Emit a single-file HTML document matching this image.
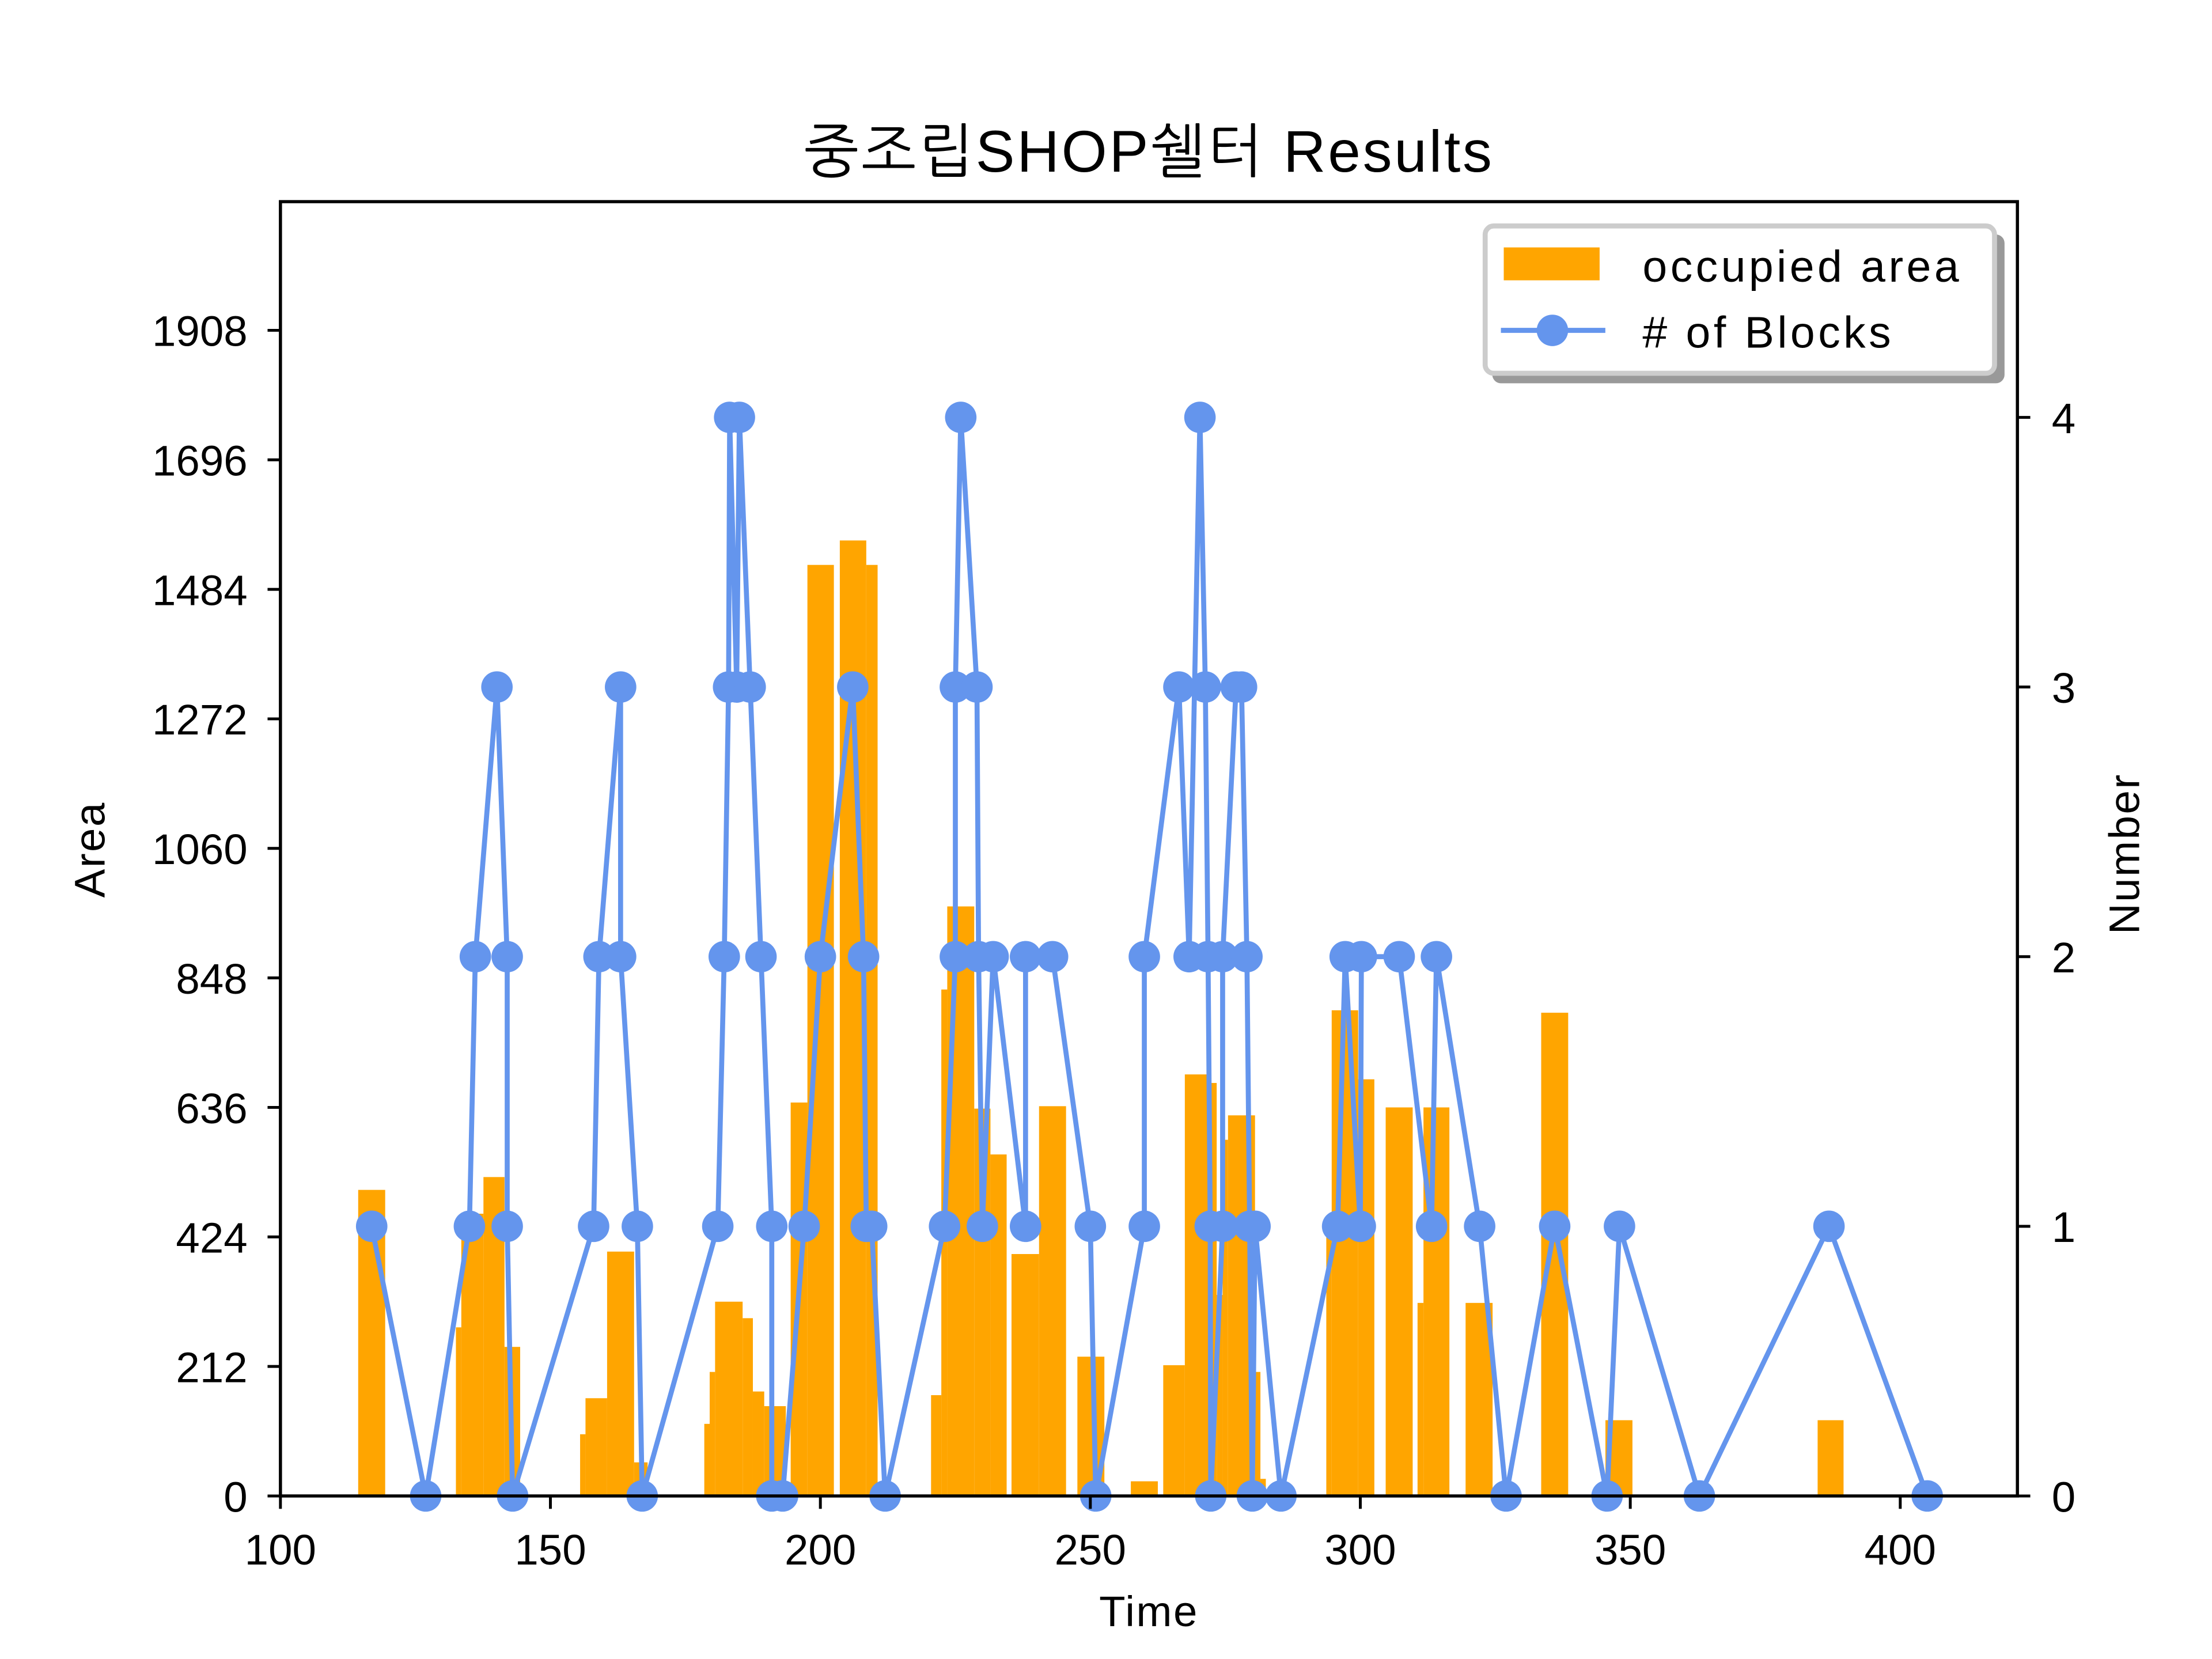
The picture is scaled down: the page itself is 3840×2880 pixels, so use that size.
<!DOCTYPE html>
<html><head><meta charset="utf-8">
<style>
html,body{margin:0;padding:0;background:#fff;}
svg{display:block;}
text{font-family:"Liberation Sans","NanumGothic","Noto Sans CJK KR",sans-serif;fill:#000;}
</style></head>
<body>
<svg id="chart" width="3840" height="2880" viewBox="0 0 1546 1160" preserveAspectRatio="none" xmlns="http://www.w3.org/2000/svg">
<rect x="0" y="0" width="1546" height="1160" fill="#fff"/>
<g id="bars"></g>
<g id="line"></g>
<rect x="196" y="141" width="1214" height="905" fill="none" stroke="#000" stroke-width="2.2"/>
<g id="xticks"></g>
<g id="yticks"></g>
<g id="rticks"></g>
<text x="803" y="120" text-anchor="middle" font-size="41" letter-spacing="1.5">중조립SHOP쉘터 Results</text>
<text x="803" y="1137" text-anchor="middle" font-size="30" letter-spacing="1">Time</text>
<text x="0" y="0" transform="translate(73,594) rotate(-90)" text-anchor="middle" font-size="30" letter-spacing="1">Area</text>
<text x="0" y="0" transform="translate(1495,597) rotate(-90)" text-anchor="middle" font-size="30" letter-spacing="1">Number</text>
<g>
<rect x="1043" y="164" width="358" height="104" rx="6" fill="#999"/>
<rect x="1038" y="158" width="356" height="103" rx="6" fill="#fff" stroke="#ccc" stroke-width="3.5"/>
<rect x="1051" y="173" width="67" height="23" fill="#FFA500"/>
<text x="1148" y="197" font-size="31" letter-spacing="2.2">occupied area</text>
<line x1="1049" y1="231" x2="1122" y2="231" stroke="#6495ED" stroke-width="3.5"/>
<circle cx="1085" cy="231" r="11" fill="#6495ED"/>
<text x="1148" y="243" font-size="31" letter-spacing="2.2"># of Blocks</text>
</g>
</svg>
<script>
// bar data: start time, width, area
const barStart = [114.4,132.5,133.5,137.6,141.5,155.5,156.5,160.5,165.5,178.5,179.5,180.5,185.6,187.5,189.6,194.5,197.6,203.6,208.5,220.5,222.4,223.5,228.5,231.5,235.4,240.5,247.6,257.5,263.5,267.5,272.4,273.4,274.5,275.5,280.5,281.5,293.7,294.7,299.6,304.7,310.6,311.7,319.5,333.5,345.4,384.7];
const barWidth = [5,1,4.1,3.9,2.9,1,4,5,2.5,1,1,5.1,1.9,2.1,4,3.1,4.9,4.9,2.1,1.9,1.1,5,3,3,5.1,5,5,5,4,4.9,1,1.1,1,5,1,1,1,4.9,3,5,1.1,4.8,5,5,5,4.8];
const barArea = [501,276,462,522,244,101,160,400,55,118,203,318,291,171,147,644,1524,1564,1524,165,829,965,634,559,396,638,228,24,214,690,676,329,583,623,203,28,447,795,682,636,316,636,316,791,124,124];
// line data: time, number of blocks
const ptTime = [116.9,126.9,135,136.1,140.1,142,142,143,158,159,163,163,166.1,167,181,182.2,183,183.2,184.5,185,187,189,191,191,193,197,200,206,208,208.5,209.5,212,223,225,225,226,229,229.3,230,232,238,238,243,250,251,260,260,266.4,268.3,270.3,271.3,271.8,272.2,272.3,274.5,274.5,277,278,279,279.5,280,280.5,285.3,295.8,297.2,300,300.2,307.2,313.2,314.1,322.1,327,336,345.7,348,362.8,386.8,405];
const ptCount = [1,0,1,2,3,2,1,0,1,2,3,2,1,0,1,2,3,4,3,4,3,2,1,0,0,1,2,3,2,1,1,0,1,2,3,4,3,2,1,2,1,2,2,1,0,1,2,3,2,4,3,2,1,0,1,2,3,3,2,1,0,1,0,1,2,1,2,2,1,2,1,0,1,0,1,0,1,0];
const xTicks = [100,150,200,250,300,350,400];
const yTicks = [0,212,424,636,848,1060,1272,1484,1696,1908];
const rTicks = [0,1,2,3,4];

const NS='http://www.w3.org/2000/svg';
const X0=196,X1=1410,Y0=1046,Y1=141;
const xMin=100,xMax=421.7,aMax=2118.6,nMax=4.8;
function sx(t){return X0+(t-xMin)/(xMax-xMin)*(X1-X0);}
function sa(a){return Y0-a/aMax*(Y0-Y1);}
function sn(n){return Y0-n/nMax*(Y0-Y1);}
function mk(tag,attrs,parent){const e=document.createElementNS(NS,tag);for(const k in attrs)e.setAttribute(k,attrs[k]);parent.appendChild(e);return e;}

const gb=document.getElementById('bars');
for(let i=0;i<barStart.length;i++){
  const x=sx(barStart[i]),w=sx(barStart[i]+barWidth[i])-x,y=sa(barArea[i]);
  const r=mk('rect',{x:x,y:y,width:w,height:Y0-y,fill:'#FFA500'},gb);
  
  
}
const gl=document.getElementById('line');
const pts=ptTime.map((t,i)=>sx(t)+','+sn(ptCount[i])).join(' ');
const pl=mk('polyline',{points:pts,fill:'none',stroke:'#6495ED','stroke-width':3.5,'stroke-linejoin':'round'},gl);


for(let i=0;i<ptTime.length;i++){
  const c=mk('circle',{cx:sx(ptTime[i]),cy:sn(ptCount[i]),r:11,fill:'#6495ED'},gl);
  
  
}
const gx=document.getElementById('xticks');
xTicks.forEach(v=>{
  const x=sx(v);
  const l=mk('line',{x1:x,y1:Y0,x2:x,y2:Y0+9,stroke:'#000','stroke-width':2},gx);
  
  
  const t=mk('text',{x:x,y:1094,'text-anchor':'middle','font-size':30},gx);
  t.textContent=v;
  
  
});
const gy=document.getElementById('yticks');
yTicks.forEach(v=>{
  const y=sa(v);
  const l=mk('line',{x1:X0-9,y1:y,x2:X0,y2:y,stroke:'#000','stroke-width':2},gy);
  
  
  const t=mk('text',{x:X0-23,y:y+11,'text-anchor':'end','font-size':30},gy);
  t.textContent=v;
  
  
});
const gr=document.getElementById('rticks');
rTicks.forEach(v=>{
  const y=sn(v);
  const l=mk('line',{x1:X1,y1:y,x2:X1+9,y2:y,stroke:'#000','stroke-width':2},gr);
  
  
  const t=mk('text',{x:X1+24,y:y+11,'text-anchor':'start','font-size':30},gr);
  t.textContent=v;
  
  
});
</script>
</body></html>
